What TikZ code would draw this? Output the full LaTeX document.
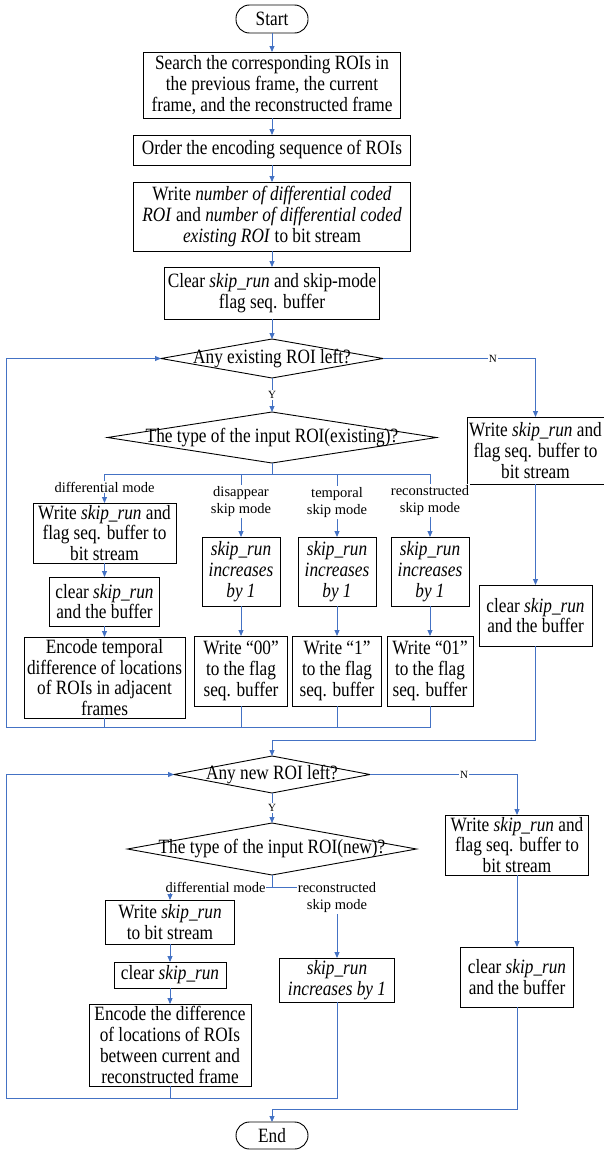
\documentclass[tikz,border=0pt]{standalone}
\usepackage{fontspec}
\setmainfont{Liberation Serif}
\newfontfamily\boxfamily{Liberation Serif}[FakeStretch=0.85]
\usetikzlibrary{arrows.meta,shapes.geometric}
\definecolor{lnblue}{RGB}{68,114,196}
\newcommand\mainfs{\boxfamily\fontsize{20.3}{20.8}\selectfont}
\newcommand\smallfs{\fontsize{14.5}{17}\selectfont}
\newcommand\sr{\textit{skip\_run}}
\begin{document}
\begin{tikzpicture}[x=1pt,y=-1pt,
  box/.style={draw=black,line width=0.9pt,inner sep=0pt,outer sep=0pt,align=center,font=\mainfs},
  term/.style={box,rounded corners=13.5pt,minimum width=72pt,minimum height=28pt},
  dia/.style={draw=black,line width=0.9pt,shape=diamond,inner sep=0pt,outer sep=0pt},
  dtext/.style={inner sep=0pt,font=\mainfs},
  lbl/.style={fill=white,inner sep=1pt,align=center,font=\smallfs},
  yn/.style={fill=white,inner sep=1pt,font=\fontsize{11}{13}\selectfont},
  conn/.style={draw=lnblue,line width=0.9pt},
  arr/.style={conn,-{Triangle[length=6pt,width=5pt]}}]
\useasboundingbox (0,0) rectangle (604,1151);

% main column
\node[term] (start) at (272,19) {Start};
\node[box,minimum width=257pt,minimum height=66pt] (search) at (272,85)
  {Search the corresponding ROIs in\\the previous frame, the current\\frame, and the reconstructed frame};
\node[box,minimum width=277pt,minimum height=30pt] (order) at (272,150)
  {Order the encoding sequence of ROIs};
\node[box,minimum width=277pt,minimum height=69pt] (writenum) at (272,216.5)
  {Write \textit{number of differential coded}\\\textit{ROI} and \textit{number of differential coded}\\\textit{existing ROI} to bit stream};
\node[box,minimum width=215pt,minimum height=52pt] (clear) at (272,293)
  {Clear \sr{} and skip-mode\\flag seq. buffer};

\node[dia,minimum width=222pt,minimum height=39pt] (d1) at (272,358.5) {};
\node[dtext] (d1t) at (d1) {Any existing ROI left?};
\node[dia,minimum width=329pt,minimum height=51pt] (d2) at (272,437.5) {};
\node[dtext] (d2t) at (d2) {The type of the input ROI(existing)?};

% right column (existing)
\node[box,minimum width=137pt,minimum height=67pt] (rw1) at (535.5,450.5)
  {Write \sr{} and\\flag seq. buffer to\\bit stream};
\node[box,minimum width=113pt,minimum height=61pt] (rclr1) at (535.5,615.5)
  {clear \sr\\and the buffer};

% differential branch (existing)
\node[box,minimum width=143pt,minimum height=60pt] (e1) at (104.5,533)
  {Write \sr{} and\\flag seq. buffer to\\bit stream};
\node[box,minimum width=110pt,minimum height=49pt] (e2) at (104.5,601.5)
  {clear \sr\\and the buffer};
\node[box,minimum width=161pt,minimum height=81pt] (e3) at (104.5,677.5)
  {Encode temporal\\difference of locations\\of ROIs in adjacent\\frames};

% skip branches
\node[box,minimum width=78pt,minimum height=69pt] (s1) at (241,571.5)
  {\textit{skip\_run}\\\textit{increases}\\\textit{by 1}};
\node[box,minimum width=78pt,minimum height=69pt] (s2) at (337,571.5)
  {\textit{skip\_run}\\\textit{increases}\\\textit{by 1}};
\node[box,minimum width=78pt,minimum height=69pt] (s3) at (430,571.5)
  {\textit{skip\_run}\\\textit{increases}\\\textit{by 1}};
\node[box,minimum width=93pt,minimum height=70pt] (w00) at (241,671)
  {Write “00”\\to the flag\\seq. buffer};
\node[box,minimum width=89pt,minimum height=70pt] (w1) at (337,671)
  {Write “1”\\to the flag\\seq. buffer};
\node[box,minimum width=86pt,minimum height=70pt] (w01) at (430,671)
  {Write “01”\\to the flag\\seq. buffer};

% new ROI part
\node[dia,minimum width=196pt,minimum height=37pt] (d3) at (272,774.5) {};
\node[dtext] (d3t) at (d3) {Any new ROI left?};
\node[dia,minimum width=289pt,minimum height=52pt] (d4) at (272,849) {};
\node[dtext] (d4t) at (d4) {The type of the input ROI(new)?};

\node[box,minimum width=143pt,minimum height=60pt] (rw2) at (517,845)
  {Write \sr{} and\\flag seq. buffer to\\bit stream};
\node[box,minimum width=113pt,minimum height=60pt] (rclr2) at (517,977)
  {clear \sr\\and the buffer};

\node[box,minimum width=129pt,minimum height=44pt] (n1) at (170,922)
  {Write \sr\\to bit stream};
\node[box,minimum width=112pt,minimum height=26pt] (n2) at (170,975)
  {clear \sr};
\node[box,minimum width=162pt,minimum height=82pt] (n3) at (170,1045)
  {Encode the difference\\of locations of ROIs\\between current and\\reconstructed frame};
\node[box,minimum width=115pt,minimum height=44pt] (n4) at (337,980)
  {\textit{skip\_run}\\\textit{increases by 1}};

\node[term,minimum height=27pt] (end) at (272,1135.5) {End};

% coordinates for joints
\coordinate (b1) at (272,474);
\coordinate (m1) at (6.6,727);
\coordinate (j1) at (272,740);
\coordinate (b2) at (272,887);
\coordinate (m2) at (6.6,1098);
\coordinate (j2) at (272,1109);

% connectors: top
\draw[arr] (start) -- (search);
\draw[arr] (search) -- (order);
\draw[arr] (order) -- (writenum);
\draw[arr] (writenum) -- (clear);
\draw[arr] (clear) -- (d1);
\draw[arr] (d1) -- node[yn]{Y} (d2);
\draw[arr] (d1.east) -- node[yn,pos=0.72]{N} (d1.east -| rw1.north) -- (rw1.north);
\draw[arr] (rw1) -- (rclr1);
\draw[arr] (rclr1.south) |- (j1) -- (d3.north);

\draw[conn] (d2.south) -- (b1);
\draw[arr] (b1) -| (e1.north);
\draw[arr] (b1) -| (s1.north);
\draw[arr] (b1) -| (s2.north);
\draw[arr] (b1) -| (s3.north);
\draw[arr] (e1) -- (e2);
\draw[arr] (e2) -- (e3);
\draw[arr] (s1) -- (w00);
\draw[arr] (s2) -- (w1);
\draw[arr] (s3) -- (w01);
\draw[conn] (e3.south) -- (e3.south |- m1);
\draw[conn] (w00.south) -- (w00.south |- m1);
\draw[conn] (w1.south) -- (w1.south |- m1);
\draw[arr] (w01.south) |- (m1) |- (d1.west);

\node[lbl] (lde) at (104.5,487) {differential mode};
\node[lbl] (lds) at (241,501.5) {disappear\\skip mode};
\node[lbl] (lts) at (337,502.5) {temporal\\skip mode};
\node[lbl] (lrs) at (430,500.5) {reconstructed\\skip mode};

% connectors: bottom
\draw[arr] (d3) -- node[yn]{Y} (d4);
\draw[arr] (d3.east) -- node[yn,pos=0.64]{N} (d3.east -| rw2.north) -- (rw2.north);
\draw[arr] (rw2) -- (rclr2);
\draw[arr] (rclr2.south) |- (j2) -- (end.north);

\draw[conn] (d4.south) -- (b2);
\draw[arr] (b2) -| (n1.north);
\draw[arr] (b2) -| (n4.north);
\draw[arr] (n1) -- (n2);
\draw[arr] (n2) -- (n3);
\draw[conn] (n3.south) -- (n3.south |- m2);
\draw[arr] (n4.south) |- (m2) |- (d3.west);

\node[lbl] (ldn) at (215.5,887) {differential mode};
\node[lbl] (lrn) at (337,898) {reconstructed\\skip mode};
\end{tikzpicture}
\end{document}
